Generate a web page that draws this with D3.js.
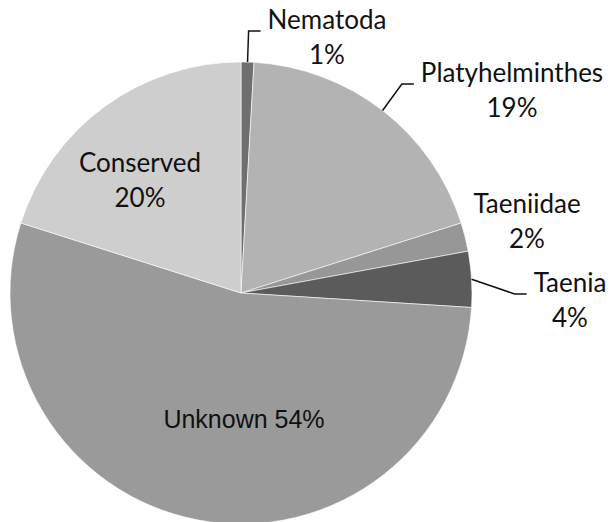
<!DOCTYPE html>
<html>
<head>
<meta charset="utf-8">
<script src="https://cdn.jsdelivr.net/npm/d3@7"></script>
<style>
	html, body { margin: 0; padding: 0; background: #fff; }
	svg { display: block; }
	.lbl { font-family: Lato, "Open Sans", sans-serif; font-size: 26px; fill: #111; }
	.lbl.plain { font-family: "Liberation Sans", Arial, sans-serif; font-size: 25px; }
</style>
</head>
<body>
<svg id="chart" width="612" height="522"></svg>
<script>
// Data, clockwise from 12 o'clock
var categories = ['Nematoda', 'Platyhelminthes', 'Taeniidae', 'Taenia', 'Unknown', 'Conserved'];
var shares = [0.9, 19.2, 2.0, 3.9, 53.9, 20.1];
var sliceColors = ['#6f6f6f', '#b3b3b3', '#979797', '#5b5b5b', '#9a9a9a', '#cecece'];

// Label layout (center x, first baseline, has leader line, one-line label)
var labelLayout = {
	Nematoda:        { x: 327, y: 29,  leader: true },
	Platyhelminthes: { x: 512, y: 82,  leader: true },
	Taeniidae:       { x: 527, y: 213, leader: false },
	Taenia:          { x: 570, y: 292, leader: true },
	Unknown:         { x: 244, y: 428, leader: false, inline: true },
	Conserved:       { x: 140, y: 172, leader: false }
};

var cx = 241, cy = 293, radius = 231, lineGap = 35;

var svg = d3.select('#chart');
var g = svg.append('g').attr('transform', 'translate(' + cx + ',' + cy + ')');

var data = categories.map((name, i) => ({ name, value: shares[i], color: sliceColors[i] }));

var pie = d3.pie().sort(null).value((d) => d.value);
var arc = d3.arc().innerRadius(0).outerRadius(radius);
var arcs = pie(data);

g.selectAll('path.slice').data(arcs)
	.enter().append('path')
	.attr('class', 'slice')
	.attr('d', arc)
	.attr('fill', (d) => d.data.color)
	.attr('stroke', '#ffffff')
	.attr('stroke-width', 0.6);

var pct = (v) => Math.round(v) + '%';

// labels live in page coords
var labels = svg.append('g');
arcs.forEach((a) => {
	var lay = labelLayout[a.data.name];
	var t = labels.append('text')
		.attr('class', 'lbl' + (lay.inline ? ' plain' : ''))
		.attr('text-anchor', 'middle');

	if (lay.inline)
	{
		t.append('tspan').attr('x', lay.x).attr('y', lay.y)
			.text(a.data.name + ' ' + pct(a.data.value));
		return;
	}

	var first = t.append('tspan').attr('x', lay.x).attr('y', lay.y).text(a.data.name);
	t.append('tspan').attr('x', lay.x).attr('y', lay.y + lineGap).text(pct(a.data.value));

	if (lay.leader)
	{
		// start on the rim at the slice's middle angle
		var mid = (a.startAngle + a.endAngle) / 2;
		var sx = cx + radius * Math.sin(mid);
		var sy = cy - radius * Math.cos(mid);
		var left = lay.x - first.node().getComputedTextLength() / 2;
		var ly = lay.y + 2;
		labels.append('path')
			.attr('d', d3.line()([[sx, sy], [left - 19, ly], [left - 7, ly]]))
			.attr('fill', 'none')
			.attr('stroke', '#111')
			.attr('stroke-width', 1.5);
	}
});
</script>
</body>
</html>
